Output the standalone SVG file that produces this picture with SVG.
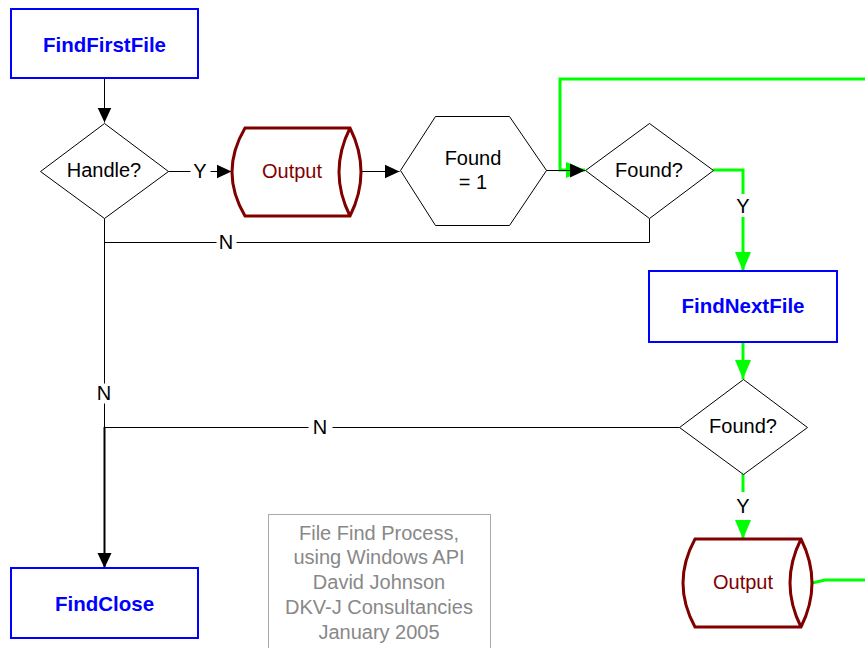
<svg xmlns="http://www.w3.org/2000/svg" width="865" height="648" viewBox="0 0 865 648">
<defs>
<style>
text{font-family:"Liberation Sans",Arial,sans-serif;font-size:20px;text-anchor:middle;dominant-baseline:central}
.proc rect{fill:#fff;stroke:#0000ff;stroke-width:2}
.proc text{fill:#0000ff;font-weight:bold;font-size:20.5px}
.dec polygon{fill:#fff;stroke:#000;stroke-width:1}
.out path{fill:#fff;stroke:#800000;stroke-width:3}
.out text{fill:#800000}
.k{fill:none;stroke:#000;stroke-width:1}
.g{fill:none;stroke:#00ff00;stroke-width:3}
.lbl{fill:#000}
.note rect{fill:#fff;stroke:#aaaaaa;stroke-width:1}
.note text{fill:#888888}
</style>
<marker id="ak" markerUnits="userSpaceOnUse" markerWidth="16" markerHeight="16" viewBox="0 0 16 16" refX="15" refY="8" orient="auto"><path d="M0,1 L15,8 L0,15 Z" fill="#000"/></marker>
<marker id="ag" markerUnits="userSpaceOnUse" markerWidth="20" markerHeight="20" viewBox="0 0 20 20" refX="19" refY="10" orient="auto"><path d="M0,2 L19,10 L0,18 Z" fill="#00ff00"/></marker>
</defs>
<rect width="865" height="648" fill="#fff"/>

<g id="connectors">
<g transform="translate(0.5,0.5)">
<path class="k" d="M104,78 V122" marker-end="url(#ak)"/>
<path class="k" d="M168,171 H190"/>
<path class="k" d="M210,171 H231" marker-end="url(#ak)"/>
<path class="k" d="M361,171 H399" marker-end="url(#ak)"/>
<path class="k" d="M649,218 V242 H236"/>
<path class="k" d="M216,242 H104"/>
<path class="k" d="M104,218 V383"/>
<path class="k" d="M104,403 V427"/>
<path class="k" d="M679,427 H332"/>
<path class="k" d="M308,427 H104"/>
</g>
<path class="g" d="M865,79 H560 V170 H585" marker-end="url(#ag)"/>
<path class="k" d="M546,170.5 H585" marker-end="url(#ak)"/>
<path class="k" d="M104.5,427 V568" style="stroke-width:2" marker-end="url(#ak)"/>
<path class="g" d="M713,170 H743 V194"/>
<path class="g" d="M743,217 V271" marker-end="url(#ag)"/>
<path class="g" d="M743,342 V379" marker-end="url(#ag)"/>
<path class="g" d="M743,474 V492"/>
<path class="g" d="M743,520 V539" marker-end="url(#ag)"/>
<path class="g" d="M812,583 L825,580 H865"/>
<text class="lbl" x="200" y="171">Y</text>
<text class="lbl" x="226" y="242">N</text>
<text class="lbl" x="743" y="206">Y</text>
<text class="lbl" x="104" y="393">N</text>
<text class="lbl" x="320" y="427">N</text>
<text class="lbl" x="743" y="506">Y</text>
</g>

<g id="findFirstFile" class="proc"><rect x="11" y="9" width="187" height="69"/><text x="104.5" y="44">FindFirstFile</text></g>
<g id="handle" class="dec"><polygon points="104.5,123.5 168.5,171.5 104.5,218.5 40.5,171.5"/><text x="104" y="170">Handle?</text></g>
<g id="output1" class="out"><path d="M245,128 H350 Q372,172 350,216 H245 Q219,172 245,128 Z M350,128 Q328,172 350,216"/><text x="292" y="171">Output</text></g>
<g id="found1" class="dec"><polygon points="400.5,170.5 435.5,116.5 509.5,116.5 546.5,170.5 509.5,225.5 435.5,225.5"/><text x="473" y="158">Found</text><text x="473" y="182">= 1</text></g>
<g id="foundQ1" class="dec"><polygon points="649.5,123.5 713.5,170.5 649.5,218.5 585.5,170.5"/><text x="649" y="170">Found?</text></g>
<g id="findNextFile" class="proc"><rect x="649" y="271" width="188" height="71"/><text x="743" y="305">FindNextFile</text></g>
<g id="foundQ2" class="dec"><polygon points="743.5,379.5 807.5,427.5 743.5,474.5 679.5,427.5"/><text x="743" y="426">Found?</text></g>
<g id="output2" class="out"><path d="M695,539 H801 Q823,583 801,627 H695 Q671,583 695,539 Z M801,539 Q779,583 801,627"/><text x="743" y="582">Output</text></g>
<g id="findClose" class="proc"><rect x="11" y="568" width="187" height="70"/><text x="104.5" y="603">FindClose</text></g>
<g id="note" class="note"><rect x="268.5" y="514.5" width="222" height="140"/>
<text x="379" y="533">File Find Process,</text>
<text x="379" y="557">using Windows API</text>
<text x="379" y="582">David Johnson</text>
<text x="379" y="607">DKV-J Consultancies</text>
<text x="379" y="632">January 2005</text>
</g>
</svg>
